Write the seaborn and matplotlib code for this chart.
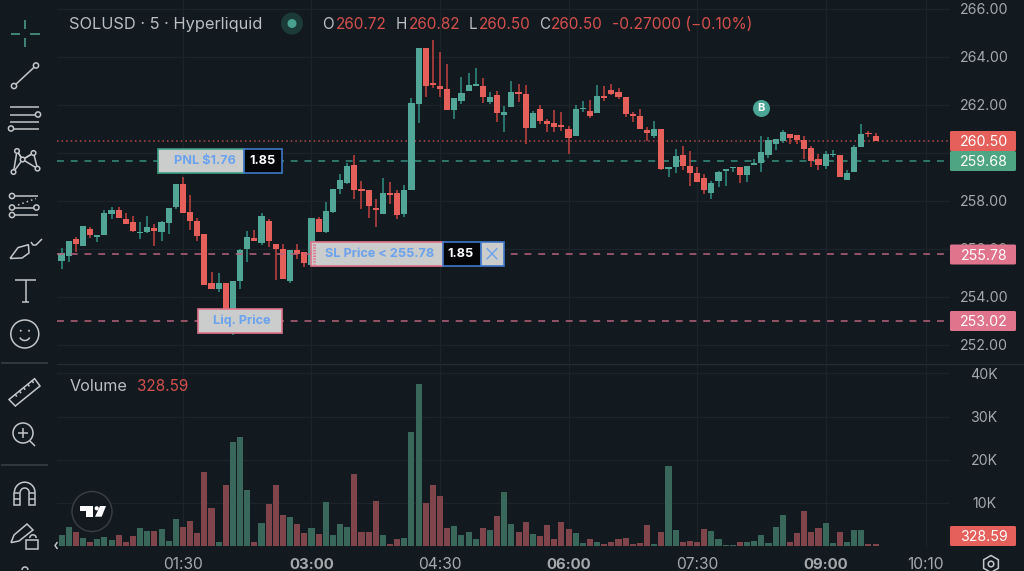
import numpy as np
import pandas as pd
import matplotlib
matplotlib.use("Agg")
import matplotlib.pyplot as plt
from matplotlib.patches import Rectangle, Circle, FancyBboxPatch, RegularPolygon, Polygon
import seaborn as sns

opens = [255.49,255.72,256.40,256.12,256.82,256.49,256.60,257.46,257.61,257.26,257.13,256.65,256.72,256.86,256.69,257.10,257.76,258.71,257.54,257.17,
256.61,254.60,254.34,254.57,253.32,254.68,255.99,256.44,256.26,257.17,256.19,256.01,254.67,255.96,255.89,255.33,257.26,256.71,257.56,258.51,
258.74,259.49,258.50,258.46,257.67,257.47,258.33,258.35,257.44,258.47,262.03,264.36,262.90,262.79,262.65,261.78,262.17,262.58,262.79,262.81,
262.14,262.42,261.58,261.90,262.50,262.44,261.06,261.82,261.35,261.26,261.15,261.00,260.72,261.82,261.75,261.68,262.36,262.64,262.56,262.32,
261.64,261.54,260.97,260.72,261.01,259.35,259.43,259.92,259.47,259.17,258.95,258.35,258.85,259.25,259.36,259.43,259.10,259.49,259.57,259.92,
260.36,260.50,260.78,260.74,260.56,260.20,259.77,259.46,259.90,259.92,258.86,259.21,260.24,260.82,260.72]
highs = [256.03,256.35,256.51,256.94,256.93,256.58,257.62,257.74,257.74,257.49,257.38,257.11,257.38,257.03,257.18,257.69,258.72,259.01,258.25,257.28,
256.61,255.06,255.01,254.57,254.68,256.01,256.74,256.78,257.50,257.26,256.19,256.21,255.96,256.19,255.89,257.28,257.35,257.96,258.51,259.11,
259.57,259.92,258.84,258.46,258.07,258.94,258.78,258.46,258.67,262.28,264.36,264.36,264.71,264.21,263.69,262.29,263.18,263.35,263.54,263.11,
262.53,262.60,261.97,263.01,262.86,262.83,261.76,262.00,261.42,261.78,261.69,261.14,261.99,262.15,262.21,262.85,262.79,262.88,262.71,262.32,
261.72,261.82,261.07,261.35,261.01,259.42,260.15,260.29,260.08,259.40,259.13,258.85,259.26,259.32,259.43,259.43,259.44,259.74,260.71,260.65,
260.57,260.97,260.78,260.74,260.71,260.29,259.96,260.08,260.11,259.92,259.29,260.32,261.21,260.93,260.82]
lows = [255.18,255.46,255.89,256.12,256.47,256.29,256.60,257.26,257.29,257.03,256.71,256.40,256.68,256.14,256.35,256.63,257.65,257.49,256.79,256.35,
254.49,254.34,254.22,253.32,252.42,254.34,255.46,256.32,256.18,256.10,254.71,254.74,254.60,255.60,255.24,255.33,256.72,256.65,257.51,258.31,
258.71,258.10,257.67,257.31,256.93,257.47,257.87,257.26,257.35,258.47,261.24,262.32,262.69,262.35,261.78,261.40,262.03,262.58,262.79,262.10,
262.06,261.31,260.89,261.90,262.12,260.37,261.06,261.21,260.89,260.89,260.92,259.96,260.72,261.72,261.47,261.68,262.18,262.42,262.25,261.49,
261.28,261.00,260.50,260.64,259.29,258.99,259.18,259.29,258.63,258.78,258.29,258.10,258.57,258.63,259.19,258.77,258.79,259.49,259.19,259.81,
260.13,260.40,260.36,260.36,259.77,259.43,259.29,259.35,259.82,258.99,258.86,259.21,260.24,260.65,260.50]
closes = [255.85,256.35,256.22,256.94,256.57,256.58,257.50,257.64,257.29,257.03,256.75,256.72,256.90,256.75,257.13,257.69,258.72,257.51,257.15,256.53,
254.49,254.34,254.60,253.32,254.68,255.96,256.49,256.32,257.39,256.35,255.99,254.74,255.96,255.79,255.43,257.28,256.72,257.57,258.51,258.89,
259.44,258.44,258.43,257.78,257.62,258.33,258.25,257.42,258.46,262.10,264.36,262.81,262.83,262.65,261.78,262.29,262.49,262.82,262.83,262.32,
262.32,261.65,261.71,262.54,262.46,261.06,261.68,261.35,261.21,261.10,261.10,260.61,261.83,261.89,261.54,262.39,262.28,262.47,262.33,261.61,
261.54,261.00,260.82,261.01,259.33,259.42,259.88,259.44,259.17,258.78,258.45,258.77,259.21,259.32,259.40,259.08,259.44,259.60,260.04,260.54,
260.57,260.86,260.63,260.53,260.18,259.68,259.49,259.97,259.94,258.99,259.18,260.25,260.79,260.78,260.50]
volumes_k = [2.5,4.3,3.2,1.8,0.9,1.5,2.0,1.3,2.6,0.8,2.2,4.1,3.4,3.4,3.9,1.2,6.2,4.4,5.7,2.9,
17.1,8.8,0.9,14.1,24.0,25.3,12.9,0.9,5.3,9.7,14.0,7.1,6.6,5.0,2.9,4.0,2.7,10.2,2.4,5.0,
4.4,16.7,3.2,3.2,10.4,2.6,0.5,1.5,1.9,26.5,37.6,10.0,14.0,11.6,4.0,4.6,2.5,3.3,1.5,4.2,
3.6,6.9,12.5,5.1,3.3,5.4,2.8,2.3,4.7,1.5,5.5,3.9,3.0,0.6,1.5,0.9,0.5,0.9,1.5,1.8,
0.5,0.7,4.7,0.4,3.3,18.5,3.6,0.9,1.2,0.9,3.9,3.4,1.6,0.2,0.2,0.9,0.9,1.2,2.6,0.7,
4.4,7.1,0.9,2.9,8.1,3.2,4.0,5.3,0.6,3.3,0.9,3.6,3.6,0.5,0.33]

price_ticks = [252, 254, 256, 258, 260, 262, 264, 266]
hidden_price_labels = [260]
volume_ticks = [10, 20, 30, 40]
volume_tick_labels = ["10K", "20K", "30K", "40K"]
time_positions = [17, 35, 53, 71, 89, 107, 121]
time_labels = ["01:30", "03:00", "04:30", "06:00", "07:30", "09:00", "10:10"]
bold_times = ["03:00", "06:00", "09:00"]
last_price, position_price, sl_price, liq_price = 260.50, 259.68, 255.78, 253.02
buy_marker_index, buy_marker_price = 98, 261.875

BG = "#121a20"; GRID = "#1c2429"; TXT = "#a6a9ab"; HEAD = "#bcbec0"; ICON = "#c4c6c8"
UP = "#52a698"; DOWN = "#e5605a"; UPW = "#2f8f83"; DOWNW = "#c4403f"
VUP = "#31705f"; VDOWN = "#8a3b42"
PINK = "#e0748c"; BLUE = "#6aa2ee"; BOXBLUE = "#3f78c8"; BOX = "#cbcccc"

sns.set_theme(style="dark")
plt.rcParams["font.family"] = ["Inter", "DejaVu Sans"]
W, H = 1024, 571
fig = plt.figure(figsize=(W / 100, H / 100), dpi=100, facecolor=BG)

def pane(top, bottom, left=57, right=950):
    return fig.add_axes([left / W, 1 - bottom / H, (right - left) / W, (bottom - top) / H])

df = pd.DataFrame({"i": np.arange(len(opens)), "o": opens, "h": highs, "l": lows,
                   "c": closes, "v": volumes_k})
df["side"] = np.where(df.c >= df.o, "up", "down")

ax = pane(0, 363)
vx = pane(364, 548)
xlim = (-0.64, 124.42)
for a in (ax, vx):
    a.set_facecolor(BG)
    a.set_xlim(*xlim)
    for s in a.spines.values():
        s.set_visible(False)
    a.set_xticks(time_positions)
    a.tick_params(length=0, labelbottom=False, labelleft=False, left=False, bottom=False)
    a.grid(True, color=GRID, lw=1)
    a.set_axisbelow(True)

# candles
ax.set_ylim(251.25, 266.375)
ax.set_yticks(price_ticks)
for side, body, wick in (("up", UP, UPW), ("down", DOWN, DOWNW)):
    d = df[df.side == side]
    ax.vlines(d.i, d.l, d.h, color=wick, lw=1.1, zorder=3)
    ax.bar(d.i, (d.c - d.o).abs().clip(lower=0.07), bottom=np.minimum(d.o, d.c), width=0.86,
           color=body, lw=0, zorder=4)

# price lines
ax.axhline(last_price, color="#b8484a", lw=1.1, ls=(0, (1, 2)), zorder=2)
ax.axhline(position_price, color="#36907f", lw=1.1, ls=(0, (4.5, 4.5)), zorder=2)
ax.axhline(sl_price, color="#b9627a", lw=1.1, ls=(0, (4.5, 4.5)), zorder=5)
ax.axhline(liq_price, color="#b9627a", lw=1.1, ls=(0, (4.5, 4.5)), zorder=2)
ax.scatter([buy_marker_index], [buy_marker_price], s=150, color="#4aa596", zorder=6, lw=0)
ax.text(buy_marker_index, buy_marker_price, "B", color="white", fontsize=8, fontweight="bold",
        ha="center", va="center", zorder=7)

# volume
sns.barplot(data=df, x="i", y="v", hue="side", palette={"up": VUP, "down": VDOWN},
            native_scale=True, dodge=False, legend=False, width=0.85, linewidth=0, ax=vx,
            zorder=3)
vx.set_xlim(*xlim)
vx.set_ylim(-0.53, 42.2)
vx.set_yticks(volume_ticks)
vx.set_xticks(time_positions)
vx.set_xlabel(""); vx.set_ylabel("")
vx.grid(True, color=GRID, lw=1)
vx.tick_params(length=0, labelbottom=False, labelleft=False)

# chrome overlay in pixel coordinates
ov = fig.add_axes([0, 0, 1, 1], facecolor="none")
ov.set_xlim(0, W); ov.set_ylim(H, 0); ov.axis("off")

ov.plot([57, 1024], [363.5, 363.5], color="#262d32", lw=1)

def text(x, y, s, color=TXT, size=10.2, ha="left", weight="normal", **k):
    return ov.text(x, y + 1.2, s, color=color, fontsize=size, ha=ha, va="center", fontweight=weight, **k)

RED = "#d5504d"
text(69, 23, "SOLUSD · 5 · Hyperliquid", color=HEAD, size=11.8)
ov.add_patch(Circle((292, 23.5), 11, color="#1c3a38", lw=0))
ov.add_patch(Circle((292, 23.5), 4.5, color="#49a08f", lw=0))
for x, lab, xv, val in [(322, "O", 336, "260.72"), (396, "H", 408.5, "260.82"), (469, "L", 479, "260.50"), (539, "C", 551, "260.50")]:
    text(x, 23, lab, color=HEAD, size=11)
    text(xv, 23, val, color=RED, size=11)
text(611.5, 23, "-0.27000 (−0.10%)", color=RED, size=11.2)
text(70, 385, "Volume", color=HEAD, size=11.6)
text(137, 385, "328.59", color=RED, size=11)

# right scale
for p in price_ticks:
    if p in hidden_price_labels:
        continue
    y = ax.transData.transform((0, p))[1]
    text(984, H - y, f"{p:.2f}", ha="center")
for v, l in zip(volume_ticks, volume_tick_labels):
    y = vx.transData.transform((0, v))[1]
    text(984, H - y, l, ha="center")
for (t, b, col, lab) in [(131, 151, "#e5605a", "260.50"), (151, 171, "#4ea583", "259.68"),
                         (244.5, 264.5, "#e0748c", "255.78"), (311, 331, "#e0748c", "253.02"),
                         (526, 546, "#e5605a", "328.59")]:
    ov.add_patch(FancyBboxPatch((950, t), 66, b - t, boxstyle="round,pad=0,rounding_size=1.5", fc=col, ec="none", zorder=5))
    text(984, (t + b) / 2, lab, color="white", ha="center", zorder=6)

# time axis
for p, lab in zip(time_positions, time_labels):
    x = vx.transData.transform((p, 0))[0]
    bold = lab in bold_times
    text(x, 563.5, lab, ha="center", size=10.8 if bold else 11.2, weight="bold" if bold else "normal")
ov.add_patch(RegularPolygon((991, 564), 6, radius=8.5, fc="none", ec=ICON, lw=1.1))
ov.add_patch(Circle((991, 564), 2.8, fc="none", ec=ICON, lw=1.1))

# order boxes
def box(x0, y0, x1, y1, fc, ec, z=8, lw=1.2):
    ov.add_patch(Rectangle((x0, y0), x1 - x0, y1 - y0, fc=fc, ec=ec, lw=lw, zorder=z))

FS = 9.1
box(157.5, 149, 243.5, 172.5, BOX, "#3f9f85")
text(204.5, 159.5, "PNL $1.76", color=BLUE, size=FS, ha="center", weight="bold", zorder=9)
box(243.5, 149, 282, 172.5, "#040608", BOXBLUE)
text(263, 159.5, "1.85", color="white", size=FS, ha="center", weight="bold", zorder=9)
box(198, 309, 282, 332.5, BOX, PINK)
text(241.5, 319.5, "Liq. Price", color=BLUE, size=FS, ha="center", weight="bold", zorder=9)
box(310.5, 242, 442.5, 265.5, BOX, PINK)
text(380, 252.5, "SL Price < 255.78", color=BLUE, size=FS, ha="center", weight="bold", zorder=9)
box(442.5, 242, 480.5, 265.5, "#040608", BOXBLUE)
text(461, 252.5, "1.85", color="white", size=FS, ha="center", weight="bold", zorder=9)
box(480.5, 242, 504, 265.5, BOX, BOXBLUE)
ov.plot([487, 497], [248.5, 259], color=BLUE, lw=1, zorder=9)
ov.plot([487, 497], [259, 248.5], color=BLUE, lw=1, zorder=9)
ov.plot([313.5, 313.5], [244, 264], color=PINK, lw=2, ls=(0, (0.5, 0.5)), zorder=9)

# TradingView badge
ov.add_patch(Circle((92, 511.5), 20, fc="#14181f", ec="#3a3f45", lw=1, zorder=9))
ov.add_patch(Polygon([(80, 506), (92.7, 506), (92.7, 516.7), (86, 516.7), (86, 510.7), (80, 510.7)], fc="white", ec="none", zorder=10))
ov.add_patch(Circle((96.7, 508.3), 2.1, fc="white", ec="none", zorder=10))
ov.add_patch(Polygon([(100, 506), (106, 506), (101.7, 516.7), (95, 516.7)], fc="white", ec="none", zorder=10))

# toolbar
lw = 1.1
def line(xs, ys, color=ICON, lw=lw, **k):
    ov.plot(xs, ys, color=color, lw=lw, solid_capstyle="butt", **k)
def ring(x, y, r=2.6):
    ov.add_patch(Circle((x, y), r, fc=BG, ec=ICON, lw=lw, zorder=4))

g = "#4fa392"
line([10.5, 20], [33.5, 33.5], g); line([29.5, 40], [33.5, 33.5], g)
line([25.3, 25.3], [20, 29], g); line([25.3, 25.3], [38, 47], g)
line([14, 36], [86, 65.5]); ring(14, 86); ring(36, 65.5)
line([10, 39], [107.4, 107.4]); line([10, 39], [114.5, 114.5]); line([10, 39], [121.6, 121.6]); line([10, 39], [128.5, 128.5])
ring(38, 114.5); ring(11, 128.5)
pts = [(13.5, 172), (17, 151), (22.6, 159.5), (33.5, 153), (37.5, 168.6)]
line([p[0] for p in pts], [p[1] for p in pts]); line([13.5, 22.6, 37.5], [172, 159.5, 168.6]); line([17, 22.6, 33.5], [151, 159.5, 153])
for p in pts:
    ring(*p, r=2.3)
line([12, 38], [196, 196]); line([12, 37], [207.5, 207.5]); line([12, 38], [215, 215])
line([18, 36], [205, 198.5], ls=(0, (1, 2)))
ring(12, 196); ring(12, 207.5); ring(36.4, 207.5); ring(12, 215)
brush = np.array([(10, 258.5), (18, 247.6), (28.4, 244.7), (29, 253), (22, 258), (10, 258.5)])
line(brush[:, 0], brush[:, 1])
line([31, 33, 36, 42], [242, 245, 245, 239])
line([15, 35.7], [280, 280]); line([25.5, 25.5], [280, 301.5]); line([22, 29], [301.5, 301.5])
ov.add_patch(Circle((24.8, 334), 14, fc="none", ec=ICON, lw=lw))
ov.add_patch(Circle((20.8, 330.7), 1, fc=ICON, lw=0)); ov.add_patch(Circle((29, 330.7), 1, fc=ICON, lw=0))
t = np.linspace(0.15, 0.85, 20) * np.pi
line(24.8 + 5.5 * np.cos(t), 335 + 5.5 * np.sin(t))
line([1, 48], [363, 363], "#3a4146")
ov.add_patch(Polygon([(9, 399.5), (34.6, 378.7), (40, 386), (15.3, 406)], fc="none", ec=ICON, lw=lw))
for i in range(5):
    xx = 15 + i * 4.2; yy = 394 - i * 3.4
    line([xx, xx + 1.8], [yy, yy + 2.6])
ov.add_patch(Circle((23, 433), 10, fc="none", ec=ICON, lw=lw))
line([18, 28], [433, 433]); line([23, 23], [428, 438]); line([30, 35], [441, 446])
line([1, 48], [464.7, 464.7], "#3a4146")
t = np.linspace(np.pi, 2 * np.pi, 30)
line(24.7 + 10.3 * np.cos(t), 492.5 + 10.3 * np.sin(t)); line(24.7 + 4.5 * np.cos(t), 492.5 + 4.5 * np.sin(t))
for x0, x1 in [(14.4, 20.2), (29.2, 35)]:
    ov.add_patch(Rectangle((x0, 492.5), x1 - x0, 12, fc="none", ec=ICON, lw=lw))
    line([x0, x1], [499, 499])
ov.add_patch(Polygon([(11, 542.6), (14, 535), (27, 524), (33, 530), (19, 541)], fc="none", ec=ICON, lw=lw))
ov.add_patch(Rectangle((26, 539.5), 11.5, 9, fc="none", ec=ICON, lw=lw))
t = np.linspace(np.pi, 2 * np.pi, 15)
line(33 + 3.2 * np.cos(t), 538 + 3.2 * np.sin(t))
line([57.5, 55, 57.5], [542, 545.5, 549])
line(25 + 3 * np.cos(t), 570 + 3 * np.sin(t))

fig.savefig("out.png", dpi=100, facecolor=BG)
